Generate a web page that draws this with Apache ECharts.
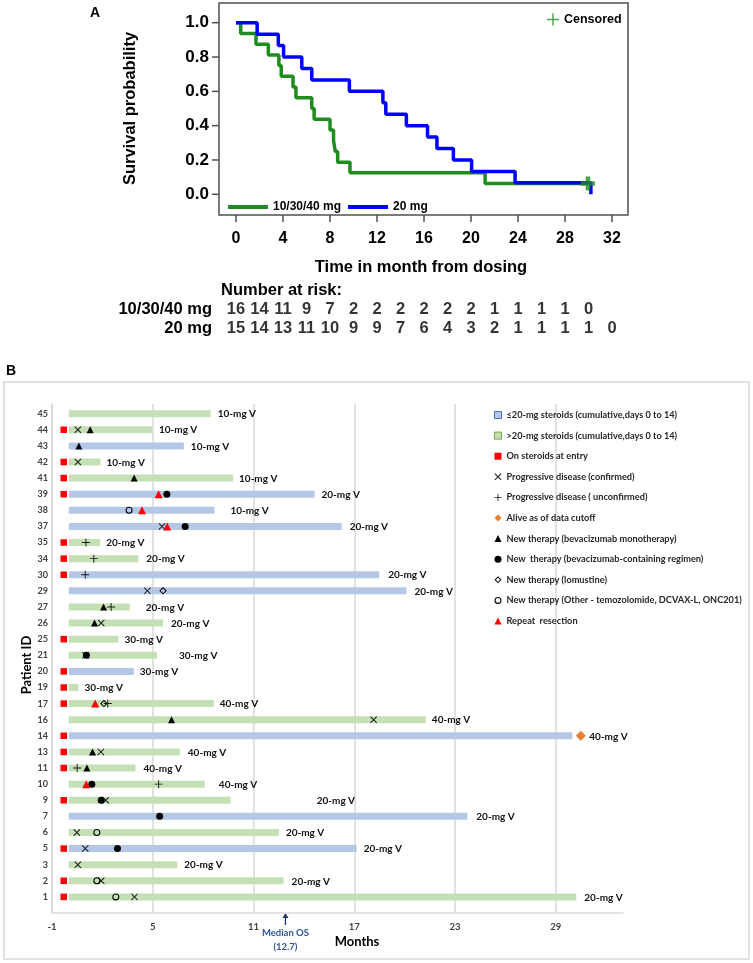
<!DOCTYPE html>
<html><head><meta charset="utf-8">
<script src="https://cdn.jsdelivr.net/npm/echarts@6/dist/echarts.min.js"></script>
<style>html,body{margin:0;padding:0;background:#fff}#c{width:753px;height:963px}</style>
</head><body><div id="c"></div>
<script>
// ---------- Panel A data (Kaplan-Meier) ----------
const kmLowTimes = [0, 0.4, 1.7, 2.75, 3.65, 3.85, 4.85, 5.1, 6.45, 6.65, 8.0, 8.3, 8.45, 8.65, 9.7, 21.2, 29.95];
const kmLowSurv  = [1, 0.9375, 0.875, 0.8125, 0.75, 0.6875, 0.625, 0.5625, 0.5, 0.4375, 0.375, 0.3125, 0.25, 0.1875, 0.125, 0.0625, 0.0625];
const kmHighTimes = [0, 1.8, 3.6, 4.05, 5.6, 6.45, 9.65, 12.5, 12.75, 14.5, 16.3, 17.1, 18.5, 20.05, 23.75, 30.2];
const kmHighSurv  = [1, 0.9333, 0.8667, 0.8, 0.7333, 0.6667, 0.6, 0.5333, 0.4667, 0.4, 0.3333, 0.2667, 0.2, 0.1333, 0.0667, 0];
const censoredLow = [29.95, 0.0625];
const xTicksA = [0, 4, 8, 12, 16, 20, 24, 28, 32];
const yTicksA = [0, 0.2, 0.4, 0.6, 0.8, 1.0];
const riskTimes = [0, 2, 4, 6, 8, 10, 12, 14, 16, 18, 20, 22, 24, 26, 28, 30, 32];
const riskLow  = [16, 14, 11, 9, 7, 2, 2, 2, 2, 2, 2, 1, 1, 1, 1, 0];
const riskHigh = [15, 14, 13, 11, 10, 9, 9, 7, 6, 4, 3, 2, 1, 1, 1, 1, 0];
const groupNames = ['10/30/40 mg', '20 mg'];

// ---------- Panel B data (swimmer plot), bottom to top ----------
const patientIds = ['1','2','3','5','6','7','9','10','11','13','14','16','17','19','20','21','25','26','27','29','30','34','35','37','38','39','41','42','43','44','45'];
const durations  = [30.22,12.79,6.46,17.14,12.51,23.73,9.64,8.10,3.97,6.61,29.98,21.26,8.63,0.58,3.87,5.25,2.96,5.61,3.63,20.11,18.48,4.14,1.87,16.25,8.67,14.63,9.78,1.89,6.85,4.95,8.45];
const steroidGrp = ['H','H','H','L','H','L','H','H','H','H','L','H','H','H','L','H','H','H','H','L','L','H','H','L','L','L','H','H','L','H','H'];
const doseLabels = ['20-mg V','20-mg V','20-mg V','20-mg V','20-mg V','20-mg V','20-mg V','40-mg V','40-mg V','40-mg V','40-mg V','40-mg V','40-mg V','30-mg V','30-mg V','30-mg V','30-mg V','20-mg V','20-mg V','20-mg V','20-mg V','20-mg V','20-mg V','20-mg V','10-mg V','20-mg V','10-mg V','10-mg V','10-mg V','10-mg V','10-mg V'];
const onSteroidsAtEntry = ['1','2','5','9','11','13','14','17','19','20','25','30','34','35','39','41','42','44'];
const progConfirmed   = [[0.54,'44'],[0.54,'42'],[5.55,'37'],[4.68,'29'],[1.93,'26'],[1.0,'21'],[18.15,'16'],[1.91,'13'],[2.2,'9'],[0.48,'6'],[0.98,'5'],[0.54,'3'],[1.93,'2'],[3.91,'1']];
const progUnconfirmed = [[1.02,'35'],[1.49,'34'],[0.98,'30'],[2.52,'27'],[2.32,'17'],[0.5,'11'],[5.35,'10']];
const aliveAtCutoff   = [[30.49,'14']];
const bevMono         = [[1.27,'44'],[0.6,'43'],[3.89,'41'],[2.07,'27'],[1.53,'26'],[6.12,'16'],[1.41,'13'],[1.08,'11']];
const bevRegimen      = [[5.84,'39'],[6.93,'37'],[1.05,'21'],[1.37,'10'],[1.93,'9'],[5.41,'7'],[2.9,'5']];
const lomustine       = [[5.61,'29'],[2.09,'17']];
const otherTherapy    = [[3.59,'38'],[1.67,'6'],[1.67,'2'],[2.8,'1']];
const repeatResection = [[5.35,'39'],[4.36,'38'],[5.86,'37'],[1.57,'17'],[1.04,'10']];
const entryMonth = -0.3;
const xTicksB = [-1, 5, 11, 17, 23, 29];
const medianOS = 12.7;

// ---------- styles (not data) ----------
const labelGap = [8,8,7,7,7,9,86,14,8,8,17,6,6,6,6,22,6,8,16,8,9,8,6,8,16,7,6,6,7,7,7];
const FA = '"Liberation Sans", Arial, sans-serif';
const FB = 'Lato, "Open Sans", sans-serif';
const GREEN = '#1f8c1f', BLUE = '#0000ff', FRAME = '#505050';
const CROSS = 'path://M1,0L5,4L9,0L10,1L6,5L10,9L9,10L5,6L1,10L0,9L4,5L0,1Z';
const PLUS_THIN = 'path://M4.4,0H5.6V4.4H10V5.6H5.6V10H4.4V5.6H0V4.4H4.4Z';
const PLUS_THICK = 'path://M3.4,0H6.6V3.4H10V6.6H6.6V10H3.4V6.6H0V3.4H3.4Z';
const RING = 'path://M5,0A5,5 0 1,1 4.99,0Z M5,1.5A3.5,3.5 0 1,0 5.01,1.5Z';
const DIAMOND_RING = 'path://M5,0L10,5L5,10L0,5Z M5,1.9L1.9,5L5,8.1L8.1,5Z';

const rowOf = id => patientIds.indexOf(id) + 1;
const ev = arr => arr.map(d => [d[0], rowOf(d[1])]);
const zip = (a, b) => a.map((v, i) => [v, b[i]]);

const L_LOW = '\u226420-mg steroids (cumulative,days 0 to 14)';
const L_HIGH = '>20-mg steroids (cumulative,days 0 to 14)';

function barData(g) {
  const out = [];
  patientIds.forEach((id, i) => { if (steroidGrp[i] === g) out.push([0, i + 1, durations[i], i]); });
  return out;
}
function barRender(color) {
  return function (params, api) {
    const row = api.value(1), end = api.value(2), pi = api.value(3);
    const a = api.coord([0, row]), b = api.coord([end, row]);
    return {
      type: 'group',
      children: [
        { type: 'rect', shape: { x: a[0], y: a[1] - 3.5, width: b[0] - a[0], height: 7 }, style: { fill: color } },
        { type: 'text', x: b[0] + labelGap[pi], y: a[1] + 0.5,
          style: { text: doseLabels[pi], align: 'left', verticalAlign: 'middle', font: 'bold 10px ' + FB, fill: '#111' } }
      ]
    };
  };
}
function sc(name, data, symbol, size, color) {
  return {
    name, type: 'scatter', xAxisIndex: 2, yAxisIndex: 2, data: ev(data), symbol, symbolSize: size,
    itemStyle: { color, opacity: 1 }, z: 5, silent: true
  };
}

const chart = echarts.init(document.getElementById('c'), null, { renderer: 'canvas' });
const option = {
  backgroundColor: '#fff',
  animation: false,
  grid: [
    { left: 219, top: 3, width: 409, height: 212, show: true, borderColor: FRAME, borderWidth: 1.5, backgroundColor: 'transparent' },
    { left: 219, top: 299.5, width: 409, height: 38 },
    { left: 52, top: 404, right: 130, bottom: 50 }
  ],
  xAxis: [
    { type: 'value', gridIndex: 0, min: -1.447, max: 33.36,
      axisLine: { show: false, onZero: false },
      axisTick: { show: false },
      axisLabel: { customValues: xTicksA, fontSize: 16, fontWeight: 'bold', fontFamily: FA, color: '#000', margin: 16 },
      splitLine: { show: false } },
    { type: 'value', gridIndex: 1, min: -1.447, max: 33.36, show: false },
    { type: 'value', gridIndex: 2, min: -1, max: 33,
      axisLine: { show: true, onZero: false, lineStyle: { color: '#d9d9d9', width: 1.5 } },
      axisTick: { show: false, customValues: xTicksB },
      axisLabel: { customValues: xTicksB, fontSize: 9.5, fontWeight: 'bold', fontFamily: FB, color: '#404040', margin: 9 },
      splitLine: { show: true, lineStyle: { color: '#d9d9d9', width: 1.5 } } }
  ],
  yAxis: [
    { type: 'value', gridIndex: 0, min: -0.1206, max: 1.1148,
      axisLine: { show: false, onZero: false },
      axisTick: { show: false },
      axisLabel: { customValues: yTicksA, formatter: v => v.toFixed(1), fontSize: 17, fontWeight: 'bold', fontFamily: FA, color: '#000', margin: 10 },
      splitLine: { show: false } },
    { type: 'category', gridIndex: 1, data: ['20 mg', '10/30/40 mg'],
      axisLine: { show: false }, axisTick: { show: false },
      axisLabel: { interval: 0, fontSize: 16.5, fontWeight: 'bold', fontFamily: FA, color: '#000', margin: 7 } },
    { type: 'value', gridIndex: 2, min: 0, max: 31.6,
      axisLine: { show: true, onZero: false, lineStyle: { color: '#d9d9d9', width: 1.5 } },
      axisTick: { show: false },
      axisLabel: { customValues: patientIds.map((d, i) => i + 1), formatter: v => patientIds[v - 1] || '',
        fontSize: 9, fontWeight: 'bold', fontFamily: FB, color: '#404040', margin: 4 },
      splitLine: { show: false } }
  ],
  legend: [
    { data: [{ name: groupNames[0], icon: 'rect' }, { name: groupNames[1], icon: 'rect' }],
      left: 223, top: 196, itemWidth: 40, itemHeight: 4, itemGap: 7, selectedMode: false,
      textStyle: { fontSize: 12, fontWeight: 'bold', fontFamily: FA, color: '#000' } },
    { data: [{ name: 'Censored', icon: PLUS_THIN }], left: 542, top: 8, itemWidth: 12, itemHeight: 12, selectedMode: false,
      textStyle: { fontSize: 12.5, fontWeight: 'bold', fontFamily: FA, color: '#000' } },
    { orient: 'vertical', left: 489, top: 404, itemWidth: 7, itemHeight: 7, itemGap: 8.6, selectedMode: false,
      textStyle: { fontSize: 9.2, fontWeight: 'bold', fontFamily: FB, color: '#262626', lineHeight: 12 },
      data: [
        { name: L_LOW, icon: 'rect', itemStyle: { color: '#b4c7e7', borderColor: '#4472c4', borderWidth: 1 } },
        { name: L_HIGH, icon: 'rect', itemStyle: { color: '#c5e0b4', borderColor: '#70ad47', borderWidth: 1 } },
        'On steroids at entry', 'Progressive disease (confirmed)', 'Progressive disease ( unconfirmed)',
        'Alive as of data cutoff', 'New therapy (bevacizumab monotherapy)', 'New  therapy (bevacizumab-containing regimen)',
        'New therapy (lomustine)', 'New therapy (Other - temozolomide, DCVAX-L, ONC201)', 'Repeat  resection'
      ] }
  ],
  series: [
    { name: groupNames[0], type: 'line', xAxisIndex: 0, yAxisIndex: 0, step: 'end', symbol: 'none',
      data: zip(kmLowTimes, kmLowSurv), color: GREEN, lineStyle: { color: GREEN, width: 3.5 }, z: 2 },
    { name: groupNames[1], type: 'line', xAxisIndex: 0, yAxisIndex: 0, step: 'end', symbol: 'none',
      data: zip(kmHighTimes, kmHighSurv), color: BLUE, lineStyle: { color: BLUE, width: 3.5 }, z: 3 },
    { name: 'Censored', type: 'scatter', xAxisIndex: 0, yAxisIndex: 0, data: [censoredLow], symbol: PLUS_THICK,
      symbolSize: 14, itemStyle: { color: GREEN }, z: 4 },
    { name: 'riskLow', type: 'scatter', xAxisIndex: 1, yAxisIndex: 1, symbolSize: 1, itemStyle: { color: 'transparent' },
      data: riskLow.map((v, i) => [riskTimes[i], groupNames[0], v]),
      label: { show: true, position: 'inside', formatter: p => p.value[2], fontSize: 16.5, fontWeight: 'bold', fontFamily: FA, color: '#000' } },
    { name: 'riskHigh', type: 'scatter', xAxisIndex: 1, yAxisIndex: 1, symbolSize: 1, itemStyle: { color: 'transparent' },
      data: riskHigh.map((v, i) => [riskTimes[i], groupNames[1], v]),
      label: { show: true, position: 'inside', formatter: p => p.value[2], fontSize: 16.5, fontWeight: 'bold', fontFamily: FA, color: '#000' } },
    { name: L_LOW, type: 'custom', xAxisIndex: 2, yAxisIndex: 2, data: barData('L'), renderItem: barRender('#b4c7e7'),
      color: '#b4c7e7', encode: { x: [0, 2], y: 1 }, z: 2, silent: true },
    { name: L_HIGH, type: 'custom', xAxisIndex: 2, yAxisIndex: 2, data: barData('H'), renderItem: barRender('#c5e0b4'),
      color: '#c5e0b4', encode: { x: [0, 2], y: 1 }, z: 2, silent: true },
    sc('On steroids at entry', onSteroidsAtEntry.map(id => [entryMonth, id]), 'rect', 6.5, '#ff0000'),
    sc('Progressive disease (confirmed)', progConfirmed, CROSS, 7, '#1a1a1a'),
    sc('Progressive disease ( unconfirmed)', progUnconfirmed, PLUS_THIN, 8, '#1a1a1a'),
    sc('Alive as of data cutoff', aliveAtCutoff, 'diamond', 10, '#ed7d31'),
    sc('New therapy (bevacizumab monotherapy)', bevMono, 'triangle', 7, '#000'),
    sc('New  therapy (bevacizumab-containing regimen)', bevRegimen, 'circle', 7, '#000'),
    sc('New therapy (lomustine)', lomustine, DIAMOND_RING, 7.5, '#000'),
    sc('New therapy (Other - temozolomide, DCVAX-L, ONC201)', otherTherapy, RING, 7, '#000'),
    sc('Repeat  resection', repeatResection, 'triangle', 8, '#ff0000')
  ]
};
chart.setOption(option);

// axis tick marks of panel A, placed through the chart's own scales
const gBottom = chart.convertToPixel({ yAxisIndex: 0 }, -0.1206);
const gLeft = chart.convertToPixel({ xAxisIndex: 0 }, -1.447);
const tickEls = [];
xTicksA.forEach(t => {
  const px = chart.convertToPixel({ xAxisIndex: 0 }, t);
  tickEls.push({ type: 'line', shape: { x1: px, y1: gBottom, x2: px, y2: gBottom + 7 }, style: { stroke: FRAME, lineWidth: 1.5 } });
});
yTicksA.forEach(v => {
  const py = chart.convertToPixel({ yAxisIndex: 0 }, v);
  tickEls.push({ type: 'line', shape: { x1: gLeft - 7, y1: py, x2: gLeft, y2: py }, style: { stroke: FRAME, lineWidth: 1.5 } });
});

const mx = chart.convertToPixel({ xAxisIndex: 2 }, 12.9);
chart.setOption({
  graphic: tickEls.concat([
    { type: 'text', left: 90, top: 6, style: { text: 'A', font: 'bold 14px ' + FA, fill: '#000' } },
    { type: 'text', x: 130, y: 108.5, rotation: Math.PI / 2,
      style: { text: 'Survival probability', font: 'bold 16.5px ' + FA, fill: '#000', align: 'center', verticalAlign: 'middle' } },
    { type: 'text', x: 421, y: 267, style: { text: 'Time in month from dosing', font: 'bold 16.5px ' + FA, fill: '#000', align: 'center', verticalAlign: 'middle' } },
    { type: 'text', x: 221, y: 290, style: { text: 'Number at risk:', font: 'bold 16.5px ' + FA, fill: '#000', align: 'left', verticalAlign: 'middle' } },
    { type: 'rect', shape: { x: 4, y: 382, width: 745, height: 577 }, style: { fill: 'none', stroke: '#d9d9d9', lineWidth: 1.5 }, z: 0 },
    { type: 'text', left: 6, top: 364, style: { text: 'B', font: 'bold 14px ' + FA, fill: '#000' } },
    { type: 'text', x: 27, y: 665, rotation: Math.PI / 2,
      style: { text: 'Patient ID', font: 'bold 13px ' + FB, fill: '#000', align: 'center', verticalAlign: 'middle' } },
    { type: 'text', x: 357, y: 942, style: { text: 'Months', font: 'bold 13px ' + FB, fill: '#000', align: 'center', verticalAlign: 'middle' } },
    { type: 'line', shape: { x1: mx, y1: 916, x2: mx, y2: 925 }, style: { stroke: '#1f3864', lineWidth: 1.3 } },
    { type: 'polygon', shape: { points: [[mx, 913], [mx - 3, 918], [mx + 3, 918]] }, style: { fill: '#1f3864' } },
    { type: 'text', x: mx, y: 933, style: { text: 'Median OS', font: 'bold 9.5px ' + FB, fill: '#2f5597', align: 'center', verticalAlign: 'middle' } },
    { type: 'text', x: mx, y: 947, style: { text: '(' + medianOS + ')', font: 'bold 9.5px ' + FB, fill: '#2f5597', align: 'center', verticalAlign: 'middle' } }
  ])
});
</script></body></html>
